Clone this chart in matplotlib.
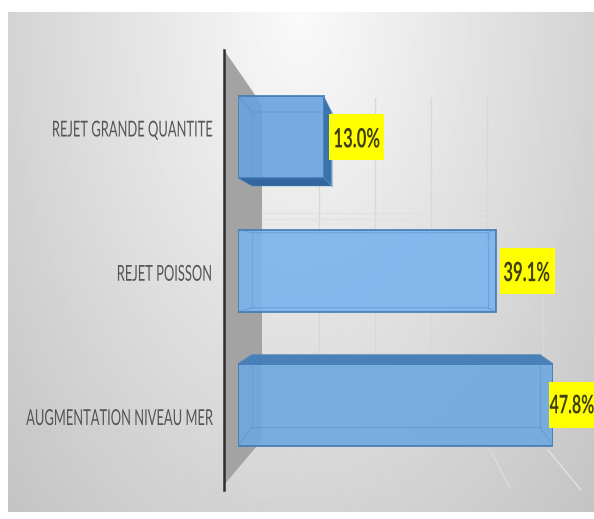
#!/usr/bin/env python

import numpy as np
import matplotlib
matplotlib.use('Agg')
import matplotlib.pyplot as plt
from matplotlib.patches import Polygon, Rectangle
from matplotlib.patheffects import AbstractPathEffect
from matplotlib.transforms import Affine2D

plt.rcParams['font.family'] = ['Lato', 'DejaVu Sans']

categories = ['REJET GRANDE QUANTITE', 'REJET POISSON', 'AUGMENTATION NIVEAU MER']
values = [13.0, 39.1, 47.8]
labels = ['13.0%', '39.1%', '47.8%']

W, H = 594, 519
PX_PER_UNIT_X = 315 / 47.8
PX_PER_UNIT_Y = 133.75
BAR_H = 82 / PX_PER_UNIT_Y
BAR_TOP_PX = 137  # pixel row of first category centre

# perspective of each bar in pixels: side shift, back top shift, back bottom shift
depth_right = [8, -8, -13]
depth_top = [16, 3, -9]
depth_bot = [8, -4, -18]
bar_colors = ['#6aa4de', '#7ab3ec', '#6fa8e0']
label_gap = [5, 4, -4]
text_shift = [28, 27, 23]
text_size = [12, 12, 11.5]
# category labels do not sit on the bar centres in the source
cat_dy = [9, -1.5, -12]


class StretchY(AbstractPathEffect):
  # the source text is tall and narrow, stretch glyphs about a pixel row
  def __init__(self, cy, sy, dy=0):
    super().__init__()
    self.cy, self.sy, self.dy = cy, sy, dy

  def draw_path(self, renderer, gc, tpath, affine, rgbFace=None):
    trans = affine + Affine2D().translate(0, -self.cy).scale(1, self.sy).translate(0, self.cy + self.dy)
    renderer.draw_path(gc, tpath, trans, rgbFace)


fig = plt.figure(figsize=(W / 100, H / 100), dpi=100, facecolor='white')

#---- background, pixel coordinates ----
bg = fig.add_axes([0, 0, 1, 1])
bg.axis('off')

yy, xx = np.mgrid[0:1:250j, 0:1:300j]
rad = np.sqrt(4 * (xx - 0.5) ** 2 + yy ** 2)
shade = 0.98 - 0.15 * rad
bg.imshow(shade, extent=(8, W, 512, 12), cmap='gray', vmin=0, vmax=1,
          aspect='auto', interpolation='bilinear', zorder=0)
bg.set_xlim(0, W)
bg.set_ylim(H, 0)

# back wall of the chart
bg.add_patch(Polygon([(224, 50), (262, 105), (262, 440), (224, 485)],
                     closed=True, facecolor='#a3a3a3', edgecolor='none', zorder=1))
for gx in [319, 375, 431, 487, 543]:
  bg.plot([gx, gx], [98, 356], color='#d8d8d8', lw=1, zorder=1)
for gy, gc in [(213, '#e8e0d8'), (219, '#e0e2e6')]:
  bg.plot([262, 490], [gy, gy], color=gc, lw=1, zorder=1)
bg.plot([490, 510], [450, 488], color='#dcdcdc', lw=1, zorder=1)
bg.plot([548, 581], [450, 490], color='#e2e2e2', lw=1, zorder=1)

#---- bars ----
ax = fig.add_axes([238 / W, 1 - 490 / H, 315 / W, 440 / H], zorder=2)
ax.patch.set_visible(False)
ax.set_xlim(0, 47.8)
ax.set_ylim(2 + (490 - 404.5) / PX_PER_UNIT_Y, -(BAR_TOP_PX - 50) / PX_PER_UNIT_Y)
pos = np.arange(len(categories))
inset = 14 / PX_PER_UNIT_X

# the spine has to be moved first, set_position resets the ticks
for s in ['top', 'right', 'bottom']:
  ax.spines[s].set_visible(False)
ax.spines['left'].set_position(('outward', 14 * 0.72))
ax.spines['left'].set_linewidth(1.8)
ax.spines['left'].set_color('#2e2e2e')

for i, val in enumerate(values):
  y0, y1 = pos[i] - BAR_H / 2, pos[i] + BAR_H / 2
  xb = val + depth_right[i] / PX_PER_UNIT_X
  yb0 = y0 + depth_top[i] / PX_PER_UNIT_Y
  yb1 = y1 + depth_bot[i] / PX_PER_UNIT_Y
  if i == 0:
    ax.add_patch(Polygon([(0, y1), (inset, yb1), (xb, yb1), (val, y1)], closed=True,
                         facecolor='#33669c', edgecolor='none', clip_on=False))
    ax.add_patch(Polygon([(val, y0), (xb, yb0), (xb, yb1), (val, y1)], closed=True,
                         facecolor='#3a72ad', edgecolor='none', clip_on=False))
  elif i == 2:
    ax.add_patch(Polygon([(0, y0), (inset, yb0), (xb, yb0), (val, y0)], closed=True,
                         facecolor='#4a80b8', edgecolor='none', clip_on=False))

ax.barh(pos, values, height=BAR_H, color=bar_colors, alpha=0.9, edgecolor='#3f78b4', linewidth=1.3)

# inner edges of the box seen through the front
for i, val in enumerate(values):
  y0, y1 = pos[i] - BAR_H / 2, pos[i] + BAR_H / 2
  xb = val + depth_right[i] / PX_PER_UNIT_X
  yb0 = y0 + depth_top[i] / PX_PER_UNIT_Y
  yb1 = y1 + depth_bot[i] / PX_PER_UNIT_Y
  ax.plot([0, inset, xb], [y0, yb0, yb0], color='#4d88c4', lw=0.8, alpha=0.4)
  ax.plot([0, inset, xb], [y1, yb1, yb1], color='#4d88c4', lw=0.8, alpha=0.4)
  ax.plot([val, xb], [y0, yb0], color='#4d88c4', lw=0.8, alpha=0.4)
  ax.plot([val, xb], [y1, yb1], color='#4d88c4', lw=0.8, alpha=0.4)
  ax.plot([inset, inset], [yb0, yb1], color='#4d88c4', lw=0.8, alpha=0.25)
  ax.plot([xb, xb], [yb0, yb1], color='#4d88c4', lw=0.8, alpha=0.4)

# value labels on yellow boxes
for i, val in enumerate(values):
  box = Rectangle((val + label_gap[i] / PX_PER_UNIT_X, pos[i] - 23 / PX_PER_UNIT_Y),
                  55.5 / PX_PER_UNIT_X, 46 / PX_PER_UNIT_Y, facecolor='#ffff00',
                  edgecolor='none', clip_on=False, zorder=5)
  ax.add_patch(box)
  cy = H - (BAR_TOP_PX + pos[i] * PX_PER_UNIT_Y)
  ax.text(val + (label_gap[i] + text_shift[i]) / PX_PER_UNIT_X, pos[i], labels[i], ha='center',
          va='center_baseline', fontsize=text_size[i], fontweight='bold', color='#3f3f14', zorder=6,
          path_effects=[StretchY(cy, 1.6)])

ax.set_xticks([])
ax.set_yticks(pos)
ax.set_yticklabels(categories, fontsize=9.3, color='#555555')
for i, tl in enumerate(ax.get_yticklabels()):
  tl.set_path_effects([StretchY(H - (BAR_TOP_PX + pos[i] * PX_PER_UNIT_Y), 1.7, cat_dy[i])])
ax.tick_params(axis='y', length=0, pad=9)

fig.savefig('out.png', dpi=100)
